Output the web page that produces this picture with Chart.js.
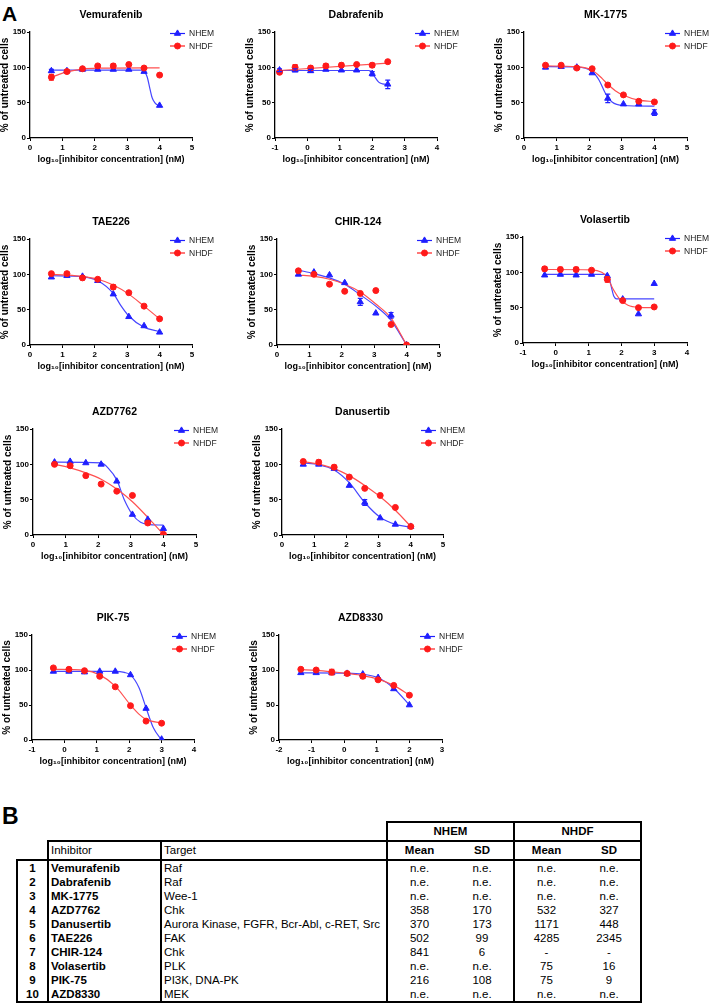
<!DOCTYPE html>
<html>
<head>
<meta charset="utf-8">
<script src="https://cdn.jsdelivr.net/npm/chart.js@4.4.0/dist/chart.umd.min.js"></script>
<style>
  body { margin: 0; width: 709px; height: 1005px; position: relative; overflow: hidden; background: #fff;
         font-family: "Liberation Sans", Arial, Helvetica, sans-serif; }
  .panel { position: absolute; }
  .tag { position: absolute; left: 2px; font-weight: bold; font-size: 21px; line-height: 21px; }
  #tbl { position: absolute; left: 16px; top: 821px; border-collapse: collapse; table-layout: fixed;
         font-size: 11.5px; color: #000; }
  #tbl td { padding: 0 2px; height: 14px; line-height: 14px; white-space: nowrap; overflow: hidden; }
  #tbl tr.hd td { height: 17px; line-height: 17px; }
  #tbl .c { text-align: center; }
  #tbl .b { font-weight: bold; }
  #tbl .bl { border-left: 2px solid #000; }
  #tbl .br { border-right: 2px solid #000; }
  #tbl .bt { border-top: 2px solid #000; }
  #tbl .bb { border-bottom: 2px solid #000; }
</style>
</head>
<body>
<div class="tag" style="top:3px">A</div>
<div class="tag" style="top:806px;font-size:23px">B</div>
<table id="tbl"></table>

<script>
// log10 of the concentrations in nM (3-fold dilution series)
const dose10uM = [0.66, 1.14, 1.62, 2.09, 2.57, 3.05, 3.52, 4.0];
const dose300nM = [-0.86, -0.38, 0.10, 0.57, 1.05, 1.52, 2.00, 2.48];
const dose1uM = [-0.34, 0.14, 0.62, 1.09, 1.57, 2.04, 2.52, 3.00];
const dose100nM = [-1.33, -0.86, -0.38, 0.09, 0.57, 1.04, 1.52, 2.00];

// % of untreated cells, fitted curves as [log dose, %]
const vemNHEM = [95, 95, 97, 97, 97, 97, 94, 46];
const vemNHDF = [86, 94, 98, 102, 102, 104, 99, 89];
const vemErrNHEM = [2, 0, 0, 0, 0, 0, 0, 0];
const vemErrNHDF = [4, 2, 0, 2, 3, 0, 0, 0];
const vemFitNHEM = [[0.66, 96], [3.45, 96], [3.55, 93], [3.62, 86], [3.7, 70], [3.77, 57], [3.85, 50], [3.92, 47], [4.0, 46]];
const vemFitNHDF = [[0.66, 86], [1.14, 93.5], [1.62, 97.5], [2.09, 98.8], [2.57, 99], [4.0, 99.2]];

const dabNHEM = [96, 96, 95, 97, 96, 96, 91, 76];
const dabNHDF = [93, 100, 99, 102, 103, 104, 103, 108];
const dabErrNHEM = [2, 2, 2, 0, 0, 0, 3, 6];
const dabErrNHDF = [2, 4, 3, 3, 3, 1, 3, 0];
const dabFitNHEM = [[-0.86, 95.5], [1.9, 95.5], [2.0, 93], [2.1, 85], [2.2, 79], [2.32, 76.5], [2.48, 75.5]];
const dabFitNHDF = [[-0.86, 95.5], [2.48, 106]];

const mkNHEM = [100, 101, 100, 92, 56, 48, 48, 36];
const mkNHDF = [103, 103, 99, 98, 75, 61, 52, 51];
const mkErrNHEM = [0, 0, 0, 0, 6, 0, 0, 4];
const mkErrNHDF = [0, 0, 0, 0, 0, 0, 2, 0];
const mkFitNHEM = [[0.66, 101], [1.62, 100.5], [2.09, 94], [2.3, 82], [2.5, 63], [2.7, 51], [3.05, 46], [4.0, 45]];
const mkFitNHDF = [[0.66, 102], [1.62, 101], [2.09, 96], [2.4, 84], [2.57, 76], [2.8, 67], [3.05, 60.5], [3.52, 53.5], [4.0, 51.5]];

const taeNHEM = [96, 98, 97, 91, 72, 40, 27, 18];
const taeNHDF = [101, 101, 95, 93, 82, 74, 55, 37];
const taeErrNHDF = [0, 2, 3, 0, 3, 0, 0, 0];
const taeFitNHEM = [[0.66, 98], [1.62, 96.5], [2.09, 91], [2.57, 73], [2.8, 56], [3.05, 41], [3.52, 25], [4.0, 19]];
const taeFitNHDF = [[0.66, 100], [1.14, 99], [1.62, 97], [2.09, 93], [2.57, 85], [3.05, 72], [3.52, 55], [4.0, 37]];

const chirNHEM = [100, 103, 99, 88, 61, 45, 42, 0];
const chirNHDF = [105, 100, 86, 76, 73, 77, 29, 0];
const chirErrNHEM = [0, 0, 0, 0, 5, 0, 4, 0];
const chirFitNHEM = [[0.66, 106], [1.14, 101], [1.62, 95], [2.09, 86], [2.57, 71], [3.05, 55], [3.52, 35], [4.0, 0]];
const chirFitNHDF = [[0.66, 99], [1.14, 97], [1.62, 93], [2.09, 86], [2.57, 75], [3.05, 58], [3.52, 38], [4.0, 0]];

const volNHEM = [96, 97, 96, 97, 95, 62, 41, 84];
const volNHDF = [105, 104, 104, 103, 90, 60, 50, 51];
const volErrNHDF = [3, 3, 3, 0, 4, 0, 0, 0];
const volFitNHEM = [[-0.34, 97], [1.57, 97], [1.63, 92], [1.7, 78], [1.77, 66], [1.85, 62.5], [3.0, 62.5]];
const volFitNHDF = [[-0.34, 104], [1.09, 103.5], [1.4, 100], [1.57, 93], [1.75, 76], [1.95, 62], [2.2, 53.5], [2.52, 50.5], [3.0, 50]];

const azd7NHEM = [103, 104, 102, 100, 76, 29, 22, 9];
const azd7NHDF = [100, 98, 84, 72, 62, 56, 17, 1];
const azd7FitNHEM = [[0.66, 103], [2.09, 102], [2.3, 95], [2.57, 78], [2.8, 50], [3.05, 29], [3.3, 18], [3.52, 15], [4.0, 14]];
const azd7FitNHDF = [[0.66, 100], [1.14, 95], [1.62, 88], [2.09, 79], [2.57, 65], [3.05, 47], [3.52, 25], [4.0, 1]];

const danNHEM = [100, 100, 94, 70, 46, 24, 15, 12];
const danNHDF = [104, 103, 96, 82, 66, 56, 39, 12];
const danErrNHEM = [0, 0, 0, 0, 4, 0, 0, 0];
const danErrNHDF = [0, 3, 3, 0, 0, 0, 0, 0];
const danFitNHEM = [[0.66, 102], [1.14, 99.5], [1.62, 92], [2.09, 74], [2.57, 46], [3.05, 25], [3.52, 15], [4.0, 11]];
const danFitNHDF = [[0.66, 104], [1.14, 100], [1.62, 94], [2.09, 84], [2.57, 70], [3.05, 54], [3.52, 35], [4.0, 12]];

const pikNHEM = [98, 98, 97, 98, 98, 93, 45, 1];
const pikNHDF = [103, 101, 99, 91, 76, 49, 27, 24];
const pikFitNHEM = [[-0.34, 98], [1.57, 98], [1.85, 96.5], [2.04, 93], [2.3, 75], [2.52, 46], [2.75, 17], [3.0, 0]];
const pikFitNHDF = [[-0.34, 101], [0.62, 99.5], [1.09, 93], [1.57, 77], [2.04, 50], [2.3, 37], [2.52, 29.5], [3.0, 24]];

const azd8NHEM = [96, 96, 96, 95, 94, 89, 73, 50];
const azd8NHDF = [101, 100, 97, 95, 91, 86, 78, 64];
const azd8ErrNHDF = [0, 0, 4, 0, 3, 0, 0, 0];
const azd8FitNHEM = [[-1.33, 96], [0.09, 95.5], [0.57, 94], [1.04, 89], [1.52, 74], [2.0, 50]];
const azd8FitNHDF = [[-1.33, 100.5], [-0.86, 99.5], [-0.38, 97.5], [0.09, 95], [0.57, 92], [1.04, 87], [1.52, 78], [2.0, 64]];

const yTicks = [0, 150, 50];
const xTitle = 'log\u2081\u2080[inhibitor concentration] (nM)';
const yTitle = '% of untreated cells';

// table B
const inhibitors = ['Vemurafenib', 'Dabrafenib', 'MK-1775', 'AZD7762', 'Danusertib', 'TAE226', 'CHIR-124', 'Volasertib', 'PIK-75', 'AZD8330'];
const targets = ['Raf', 'Raf', 'Wee-1', 'Chk', 'Aurora Kinase, FGFR, Bcr-Abl, c-RET, Src', 'FAK', 'Chk', 'PLK', 'PI3K, DNA-PK', 'MEK'];
const nhemMean = ['n.e.', 'n.e.', 'n.e.', '358', '370', '502', '841', 'n.e.', '216', 'n.e.'];
const nhemSD = ['n.e.', 'n.e.', 'n.e.', '170', '173', '99', '6', 'n.e.', '108', 'n.e.'];
const nhdfMean = ['n.e.', 'n.e.', 'n.e.', '532', '1171', '4285', '-', '75', '75', 'n.e.'];
const nhdfSD = ['n.e.', 'n.e.', 'n.e.', '327', '448', '2345', '-', '16', '9', 'n.e.'];

const BLUE = '#1f1fff', BLUE_LINE = '#4646ff';
const RED = '#ff1a1a', RED_LINE = '#ff5050';
const FONT = '"Liberation Sans", Arial, Helvetica, sans-serif';
Chart.defaults.font.family = FONT;
Chart.defaults.color = '#000';

const panels = [
  { title: 'Vemurafenib', xr: [0, 5], box: [30, 32, 192, 138], dose: dose10uM, nhem: vemNHEM, nhdf: vemNHDF, fitNhem: vemFitNHEM, fitNhdf: vemFitNHDF, errNhem: vemErrNHEM, errNhdf: vemErrNHDF },
  { title: 'Dabrafenib', xr: [-1, 4], box: [275, 32, 437, 138], dose: dose300nM, nhem: dabNHEM, nhdf: dabNHDF, fitNhem: dabFitNHEM, fitNhdf: dabFitNHDF, errNhem: dabErrNHEM, errNhdf: dabErrNHDF },
  { title: 'MK-1775', xr: [0, 5], box: [524, 32, 687, 138], dose: dose10uM, nhem: mkNHEM, nhdf: mkNHDF, fitNhem: mkFitNHEM, fitNhdf: mkFitNHDF, errNhem: mkErrNHEM, errNhdf: mkErrNHDF },
  { title: 'TAE226', xr: [0, 5], box: [30, 239, 192, 345], dose: dose10uM, nhem: taeNHEM, nhdf: taeNHDF, fitNhem: taeFitNHEM, fitNhdf: taeFitNHDF, errNhdf: taeErrNHDF },
  { title: 'CHIR-124', xr: [0, 5], box: [277, 239, 439, 345], dose: dose10uM, nhem: chirNHEM, nhdf: chirNHDF, fitNhem: chirFitNHEM, fitNhdf: chirFitNHDF, errNhem: chirErrNHEM },
  { title: 'Volasertib', xr: [-1, 4], box: [523, 237, 687, 343], dose: dose1uM, nhem: volNHEM, nhdf: volNHDF, fitNhem: volFitNHEM, fitNhdf: volFitNHDF, errNhdf: volErrNHDF },
  { title: 'AZD7762', xr: [0, 5], box: [33, 429, 196, 535], dose: dose10uM, nhem: azd7NHEM, nhdf: azd7NHDF, fitNhem: azd7FitNHEM, fitNhdf: azd7FitNHDF },
  { title: 'Danusertib', xr: [0, 5], box: [282, 429, 443, 535], dose: dose10uM, nhem: danNHEM, nhdf: danNHDF, fitNhem: danFitNHEM, fitNhdf: danFitNHDF, errNhem: danErrNHEM, errNhdf: danErrNHDF },
  { title: 'PIK-75', xr: [-1, 4], box: [32, 635, 194, 740], dose: dose1uM, nhem: pikNHEM, nhdf: pikNHDF, fitNhem: pikFitNHEM, fitNhdf: pikFitNHDF },
  { title: 'AZD8330', xr: [-2, 3], box: [279, 635, 442, 740], dose: dose100nM, nhem: azd8NHEM, nhdf: azd8NHDF, fitNhem: azd8FitNHEM, fitNhdf: azd8FitNHDF, errNhdf: azd8ErrNHDF }
];

// legend drawn in the top right corner: short line with the marker, then the name
const cornerLegend = {
  id: 'cornerLegend',
  afterDraw(chart) {
    const { ctx, chartArea } = chart;
    const items = chart.data.datasets.filter(d => d.legendText).sort((a, b) => a.legendRank - b.legendRank);
    ctx.save();
    items.forEach((d, i) => {
      const y = chartArea.top + 1.5 + i * 12.5;
      const x0 = chartArea.right - 22, x1 = chartArea.right - 7;
      ctx.strokeStyle = d.borderColor;
      ctx.lineWidth = 1.2;
      ctx.beginPath(); ctx.moveTo(x0, y); ctx.lineTo(x1, y); ctx.stroke();
      ctx.fillStyle = d.backgroundColor;
      ctx.lineWidth = 1;
      Chart.helpers.drawPoint(ctx, { pointStyle: d.pointStyle, radius: d.pointRadius, rotation: 0, borderWidth: 1 }, (x0 + x1) / 2, y);
      ctx.fillStyle = '#222';
      ctx.font = '8.5px ' + FONT;
      ctx.textBaseline = 'middle';
      ctx.textAlign = 'left';
      ctx.fillText(d.legendText, chartArea.right - 3, y + 0.5);
    });
    ctx.restore();
  }
};

// vertical error bars with caps
const errorBars = {
  id: 'errorBars',
  afterDatasetsDraw(chart) {
    const { ctx, scales: { x, y } } = chart;
    ctx.save();
    chart.data.datasets.forEach(d => {
      if (!d.errors) return;
      ctx.strokeStyle = d.borderColor;
      ctx.lineWidth = 1.2;
      d.errors.forEach((e, j) => {
        if (!e) return;
        const pt = d.data[j];
        const px = x.getPixelForValue(pt.x);
        const y1 = y.getPixelForValue(pt.y + e), y2 = y.getPixelForValue(pt.y - e);
        ctx.beginPath();
        ctx.moveTo(px, y1); ctx.lineTo(px, y2);
        ctx.moveTo(px - 2.5, y1); ctx.lineTo(px + 2.5, y1);
        ctx.moveTo(px - 2.5, y2); ctx.lineTo(px + 2.5, y2);
        ctx.stroke();
      });
    });
    ctx.restore();
  }
};

function axis(min, max, step, title, horizontal) {
  return {
    type: 'linear', min, max,
    ticks: { stepSize: step, color: '#000', font: { size: 8, weight: 'bold' }, padding: horizontal ? 2 : 1 },
    grid: { drawOnChartArea: false, drawTicks: true, tickLength: 3, color: '#000', lineWidth: 1 },
    border: { color: '#000', width: 1.3 },
    title: {
      display: true, text: title, color: '#000', font: { size: horizontal ? 9 : 10, weight: 'bold' },
      padding: horizontal ? { top: 0, bottom: 3 } : { top: 3.5, bottom: 0 }
    },
    afterFit(s) {
      if (horizontal) { s.height = 30; s.paddingLeft = 0; s.paddingRight = 0; }
      else { s.width = 34; s.paddingTop = 0; s.paddingBottom = 0; }
    }
  };
}

const pts = (xs, ys) => xs.map((x, i) => ({ x, y: ys[i] }));
const curve = arr => arr.map(([x, y]) => ({ x, y }));

panels.forEach(p => {
  const [L, T, R, B] = p.box;
  const padL = 34, padT = 30, padR = 48, padB = 30;
  const cv = document.createElement('canvas');
  cv.className = 'panel';
  cv.width = R - L + padL + padR;
  cv.height = B - T + padT + padB;
  cv.style.left = (L - padL) + 'px';
  cv.style.top = (T - padT) + 'px';
  document.body.appendChild(cv);

  new Chart(cv, {
    type: 'line',
    data: {
      datasets: [
        { data: pts(p.dose, p.nhdf), showLine: false, pointStyle: 'circle', pointRadius: 3, pointBorderWidth: 1,
          backgroundColor: RED, borderColor: RED, errors: p.errNhdf, legendText: 'NHDF', legendRank: 2, order: 0 },
        { data: pts(p.dose, p.nhem), showLine: false, pointStyle: 'triangle', pointRadius: 3.6, pointBorderWidth: 1,
          backgroundColor: BLUE, borderColor: BLUE, errors: p.errNhem, legendText: 'NHEM', legendRank: 1, order: 1 },
        { data: curve(p.fitNhdf), borderColor: RED_LINE, borderWidth: 1.2, pointRadius: 0, cubicInterpolationMode: 'monotone', order: 2 },
        { data: curve(p.fitNhem), borderColor: BLUE_LINE, borderWidth: 1.2, pointRadius: 0, cubicInterpolationMode: 'monotone', order: 3 }
      ]
    },
    options: {
      responsive: false, animation: false, devicePixelRatio: 1,
      layout: { padding: { left: 0, top: 0, right: padR, bottom: 0 } },
      plugins: {
        legend: { display: false },
        tooltip: { enabled: false },
        title: { display: true, text: p.title, fullSize: false, color: '#000',
                 font: { size: 10.5, weight: 'bold' }, padding: { top: 6.7, bottom: 10.7 } }
      },
      scales: {
        x: axis(p.xr[0], p.xr[1], 1, xTitle, true),
        y: axis(yTicks[0], yTicks[1], yTicks[2], yTitle, false)
      }
    },
    plugins: [errorBars, cornerLegend]
  });
});

// table B
const colW = [31, 113, 226, 64, 63, 64, 63];
let html = '<colgroup>' + colW.map(w => '<col style="width:' + w + 'px">').join('') + '</colgroup>';
html += '<tr class="hd"><td colspan="3"></td>' +
        '<td colspan="2" class="c b bl br bt bb">NHEM</td><td colspan="2" class="c b bl br bt bb">NHDF</td></tr>';
html += '<tr class="hd"><td></td><td class="bl br bt bb">Inhibitor</td><td class="br bt bb">Target</td>' +
        '<td class="c b bt bb">Mean</td><td class="c b br bt bb">SD</td>' +
        '<td class="c b bt bb">Mean</td><td class="c b br bt bb">SD</td></tr>';
inhibitors.forEach((name, i) => {
  const last = i === inhibitors.length - 1 ? ' bb' : '';
  const first = i === 0 ? ' bt' : '';
  html += '<tr>' +
    '<td class="c b bl' + first + last + '">' + (i + 1) + '</td>' +
    '<td class="b bl br' + last + '">' + name + '</td>' +
    '<td class="br' + last + '">' + targets[i] + '</td>' +
    '<td class="c' + last + '">' + nhemMean[i] + '</td>' +
    '<td class="c br' + last + '">' + nhemSD[i] + '</td>' +
    '<td class="c' + last + '">' + nhdfMean[i] + '</td>' +
    '<td class="c br' + last + '">' + nhdfSD[i] + '</td></tr>';
});
document.getElementById('tbl').innerHTML = html;
</script>
</body>
</html>
